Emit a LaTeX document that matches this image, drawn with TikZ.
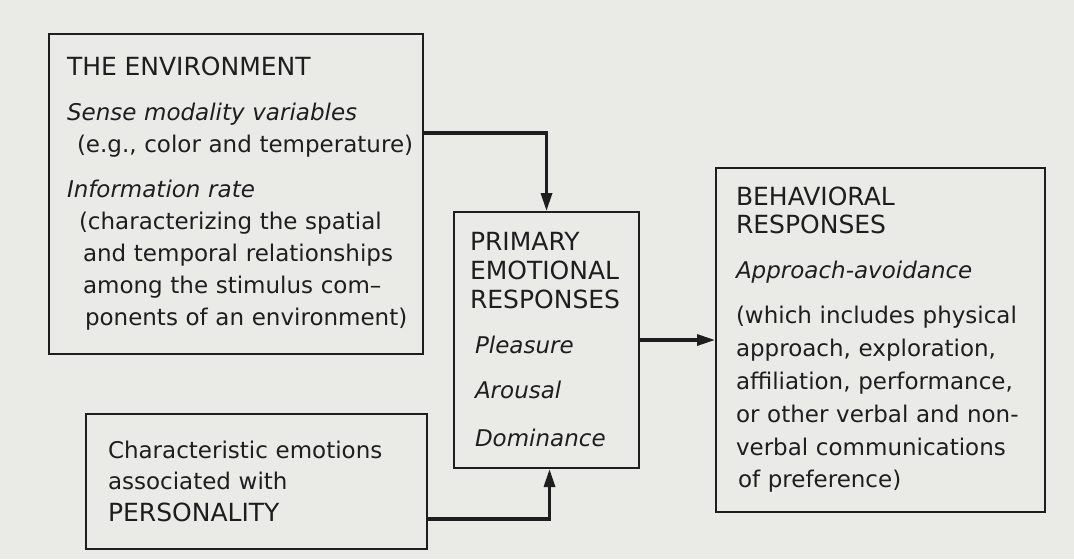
\documentclass[tikz,border=0pt]{standalone}
\usepackage{fontspec}
\setmainfont{DejaVu Sans}
\usetikzlibrary{arrows.meta}
\definecolor{paper}{RGB}{234,234,231}
\definecolor{ink}{RGB}{30,30,30}
\newcommand{\bigcaps}[1]{{\fontsize{12.5}{16}\selectfont #1}}
\begin{document}
\begin{tikzpicture}[x=0.5pt, y=-0.5pt,
  box/.style={draw=ink, line width=1pt, rectangle, align=left, text=ink,
    font=\fontsize{11.5}{16}\selectfont, inner ysep=0pt},
  arr/.style={draw=ink, line width=1.6pt, -{Triangle[length=9pt, width=5.5pt]}}]
\useasboundingbox[fill=paper] (0,0) rectangle (1074,559);
\node[box, inner xsep=9pt, text width=169pt, minimum height=160pt] (env) at (236,194) {\bigcaps{THE ENVIRONMENT}\\[6.5pt]
\textit{Sense modality variables}\\
\hspace*{5pt}\mbox{(e.g., color and temperature)}\\[6.5pt]
\textit{Information rate}\\
\hspace*{6pt}\mbox{(characterizing the spatial}\\
\hspace*{8pt}\mbox{and temporal relationships}\\
\hspace*{8pt}\mbox{among the stimulus com--}\\
\hspace*{9pt}\mbox{ponents of an environment)}};
\node[box, inner xsep=8pt, text width=76.5pt, minimum height=128pt] (prim) at (546.5,340) {\baselineskip=14.5pt \bigcaps{PRIMARY}\\
\bigcaps{EMOTIONAL}\\
\bigcaps{RESPONSES}\\[8pt]
\hspace*{2.5pt}\textit{Pleasure}\\[8pt]
\hspace*{2.5pt}\textit{Arousal}\\[8pt]
\hspace*{2.5pt}\textit{Dominance}};
\node[box, inner xsep=10pt, text width=144.5pt, minimum height=172pt] (beh) at (880.5,340) {\baselineskip=14pt \bigcaps{BEHAVIORAL}\\
\bigcaps{RESPONSES}\\[8.5pt]
\textit{Approach-avoidance}\\[6pt]
\baselineskip=16.5pt \mbox{(which includes physical}\\
approach, exploration,\\
\mbox{affiliation, performance,}\\
\mbox{or other verbal and non-}\\
\mbox{verbal communications}\\
\hspace*{1pt}of preference)};
\node[box, inner xsep=11pt, text width=148.5pt, minimum height=67.5pt] (pers) at (256.5,481.5) {\baselineskip=15.5pt \mbox{Characteristic emotions}\\
associated with\\
\bigcaps{PERSONALITY}};
\draw[arr] ([yshift=30.5pt]env.east) -| (prim.north);
\draw[arr] (prim.east) -- (beh.west);
\draw[arr] ([yshift=-18.75pt]pers.east) -| ([xshift=1.5pt]prim.south);
\end{tikzpicture}
\end{document}
